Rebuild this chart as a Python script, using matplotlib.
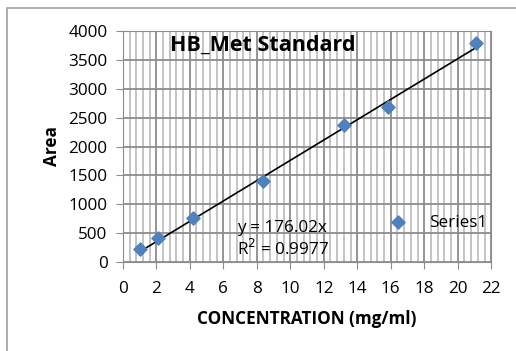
import matplotlib.pyplot as plt
from matplotlib.ticker import MultipleLocator
from matplotlib.patches import Rectangle

plt.rcParams['font.family'] = ['Open Sans', 'DejaVu Sans']

# standard curve data
conc = [1.05, 2.08, 4.2, 8.4, 13.2, 15.85, 21.1]
area = [225, 410, 755, 1395, 2365, 2685, 3785]
slope = 176.02
r2 = 0.9977

fig = plt.figure(figsize=(5.16, 3.51), dpi=100)
ax = fig.add_axes([0.238, 0.2536, 0.714, 0.658])

# outer chart border
fig.patches.append(Rectangle((7 / 516, -0.1), 1.1, 1 - 8 / 351 + 0.1, transform=fig.transFigure,
                             fill=False, edgecolor='#A0A0A0', linewidth=1.2))

ax.scatter(conc, area, marker='D', s=45, color='#4F81BD', zorder=3, label='Series1')
fit_x = [conc[0], conc[-1]]
ax.plot(fit_x, [slope * v for v in fit_x], color='black', linewidth=1.2, zorder=2)

ax.set_xlim(0, 22)
ax.set_ylim(0, 4000)
ax.xaxis.set_major_locator(MultipleLocator(2))
ax.xaxis.set_minor_locator(MultipleLocator(0.4))
ax.yaxis.set_major_locator(MultipleLocator(500))
ax.grid(which='major', color='#8C8C8C', linewidth=1.3)
ax.grid(which='minor', axis='x', color='#BFBFBF', linewidth=1.3)
ax.set_axisbelow(True)
for s in ax.spines.values():
    s.set_color('#8C8C8C')
ax.tick_params(which='major', length=5, color='#8C8C8C', labelsize=12.3)
ax.tick_params(axis='x', pad=9)
ax.tick_params(axis='y', pad=6)
ax.tick_params(which='minor', length=0)

ax.set_xlabel('CONCENTRATION (mg/ml)', fontweight='bold', fontsize=12.3, labelpad=9)
ax.set_ylabel('Area', fontweight='bold', fontsize=12.3, labelpad=5)
ax.text(0.38, 0.985, 'HB_Met Standard', transform=ax.transAxes, ha='center', va='top',
        fontweight='bold', fontsize=15.5)
ax.text(6.8, 720, 'y = 176.02x\nR$^2$ = 0.9977', fontsize=12.3, va='top', linespacing=1.15)
ax.legend(loc='center left', bbox_to_anchor=(0.66, 0.17), frameon=False, fontsize=12.3,
          handletextpad=0.8, scatterpoints=1)

fig.savefig('out.png', dpi=100)
